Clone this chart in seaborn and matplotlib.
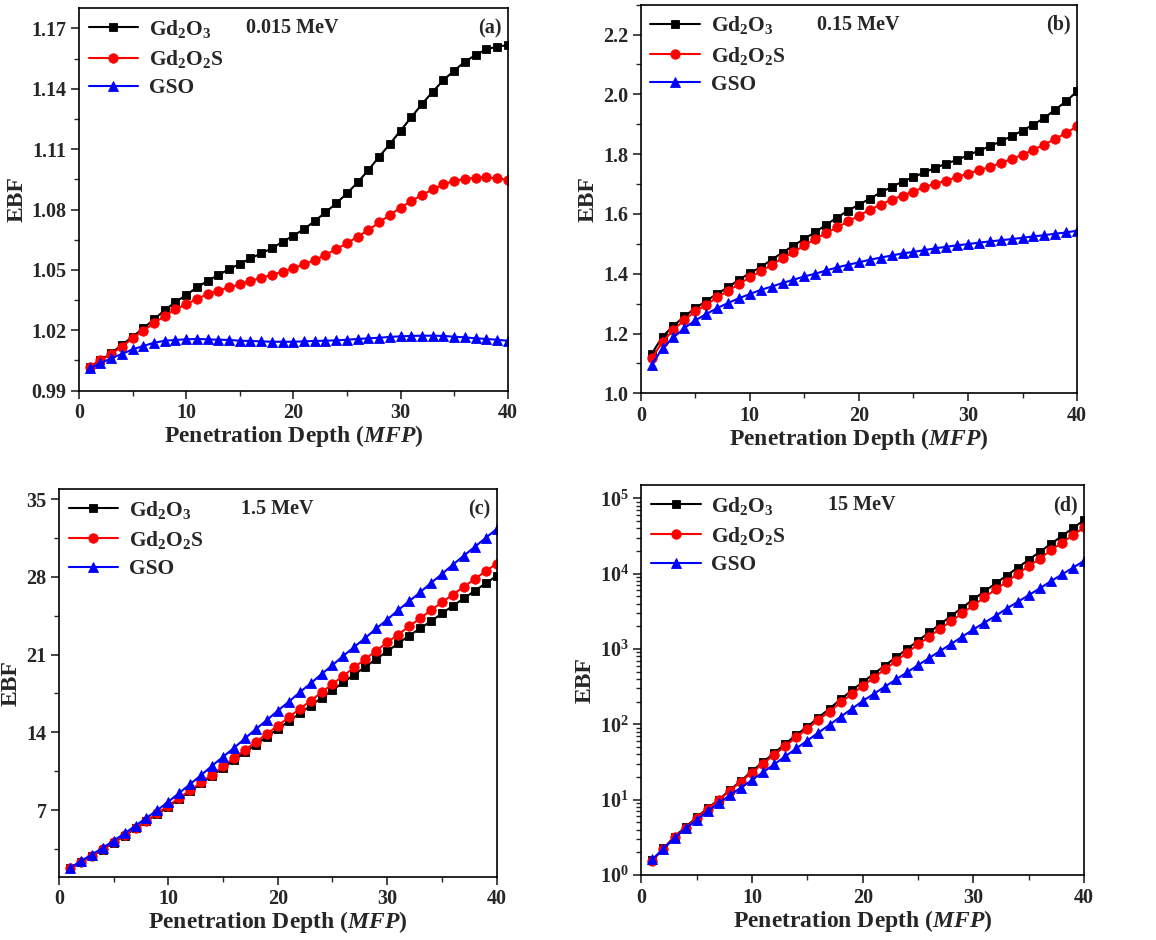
import numpy as np
import pandas as pd
import seaborn as sns
import matplotlib
matplotlib.use("Agg")
import matplotlib.pyplot as plt
from matplotlib.ticker import MultipleLocator, LogLocator, NullFormatter, FormatStrFormatter

# ---------------- data ----------------
depth = list(range(1, 41))
materials = ["Gd$_2$O$_3$", "Gd$_2$O$_2$S", "GSO"]

a_gd2o3 = [1.002, 1.005, 1.0086, 1.0127, 1.0168, 1.021, 1.0254, 1.030, 1.034, 1.0375,
           1.0413, 1.0445, 1.0475, 1.0503, 1.053, 1.0557, 1.0582, 1.0607, 1.064, 1.067,
           1.0703, 1.0743, 1.0786, 1.0831, 1.088, 1.0935, 1.0996, 1.1062, 1.1125, 1.1192,
           1.1258, 1.1324, 1.1385, 1.1443, 1.149, 1.1534, 1.1568, 1.1596, 1.1609, 1.1617]
a_gd2o2s = [1.002, 1.005, 1.0082, 1.0119, 1.016, 1.0198, 1.0235, 1.0271, 1.0304, 1.033,
            1.0355, 1.038, 1.0397, 1.0413, 1.0428, 1.0445, 1.0461, 1.0475, 1.0491, 1.0508,
            1.0528, 1.0549, 1.0574, 1.0604, 1.0632, 1.0665, 1.0698, 1.0736, 1.0773, 1.0809,
            1.0842, 1.0872, 1.090, 1.0925, 1.0942, 1.0952, 1.0958, 1.096, 1.0955, 1.0947]
a_gso = [1.0011, 1.0036, 1.0061, 1.0082, 1.0105, 1.0122, 1.0138, 1.0148, 1.0152, 1.0155,
         1.0157, 1.0155, 1.0153, 1.0152, 1.0148, 1.0147, 1.0145, 1.0143, 1.0143, 1.0143,
         1.0145, 1.0147, 1.0148, 1.015, 1.0153, 1.0157, 1.016, 1.0163, 1.0167, 1.017,
         1.0172, 1.0173, 1.0173, 1.0172, 1.0168, 1.0165, 1.016, 1.0157, 1.0153, 1.0148]

b_gd2o3 = [1.132, 1.19, 1.226, 1.257, 1.285, 1.309, 1.333, 1.355, 1.38, 1.402,
           1.422, 1.447, 1.471, 1.494, 1.517, 1.539, 1.564, 1.588, 1.611, 1.631,
           1.651, 1.672, 1.69, 1.708, 1.723, 1.739, 1.754, 1.768, 1.781, 1.796,
           1.812, 1.826, 1.843, 1.86, 1.879, 1.899, 1.921, 1.949, 1.977, 2.01]
b_gd2o2s = [1.117, 1.173, 1.212, 1.246, 1.274, 1.296, 1.321, 1.343, 1.365, 1.388,
            1.408, 1.43, 1.452, 1.472, 1.495, 1.516, 1.536, 1.555, 1.575, 1.594,
            1.614, 1.631, 1.648, 1.661, 1.675, 1.69, 1.701, 1.711, 1.723, 1.735,
            1.746, 1.757, 1.77, 1.784, 1.798, 1.815, 1.832, 1.851, 1.871, 1.893]
b_gso = [1.095, 1.151, 1.187, 1.218, 1.244, 1.265, 1.285, 1.302, 1.318, 1.332,
         1.346, 1.357, 1.369, 1.38, 1.391, 1.4, 1.411, 1.421, 1.43, 1.438,
         1.447, 1.454, 1.461, 1.468, 1.473, 1.479, 1.485, 1.49, 1.495, 1.499,
         1.504, 1.508, 1.512, 1.516, 1.52, 1.525, 1.529, 1.534, 1.538, 1.544]

c_gd2o3 = [1.75, 2.3, 2.85, 3.45, 4.05, 4.7, 5.35, 6.0, 6.65, 7.3,
           8.0, 8.7, 9.4, 10.1, 10.8, 11.5, 12.2, 12.9, 13.6, 14.3,
           15.0, 15.7, 16.4, 17.1, 17.8, 18.5, 19.2, 19.9, 20.6, 21.3,
           22.0, 22.7, 23.35, 24.0, 24.7, 25.4, 26.05, 26.75, 27.4, 28.1]
c_gd2o2s = [1.75, 2.3, 2.9, 3.5, 4.1, 4.75, 5.4, 6.05, 6.72, 7.4,
            8.1, 8.8, 9.5, 10.2, 10.95, 11.7, 12.4, 13.15, 13.85, 14.6,
            15.35, 16.1, 16.85, 17.6, 18.35, 19.1, 19.85, 20.6, 21.35, 22.1,
            22.8, 23.55, 24.25, 25.0, 25.7, 26.4, 27.1, 27.8, 28.5, 29.2]
c_gso = [1.8, 2.4, 3.0, 3.6, 4.25, 4.9, 5.6, 6.3, 7.0, 7.75,
         8.55, 9.35, 10.15, 11.0, 11.8, 12.6, 13.45, 14.3, 15.1, 15.95,
         16.75, 17.6, 18.4, 19.25, 20.05, 20.9, 21.7, 22.5, 23.35, 24.15,
         25.0, 25.8, 26.6, 27.45, 28.25, 29.1, 29.9, 30.7, 31.5, 32.3]

d_gd2o3 = [1.58, 2.26, 3.24, 4.37, 5.82, 7.76, 10.0, 13.5, 17.8, 24.0,
           31.6, 41.7, 55.0, 72.4, 93.3, 123, 162, 214, 282, 363,
           468, 603, 776, 1000, 1290, 1660, 2140, 2750, 3550, 4570,
           5820, 7410, 9440, 12000, 15300, 19500, 24800, 31600, 40300, 51300]
d_gd2o2s = [1.55, 2.24, 3.16, 4.27, 5.69, 7.59, 9.89, 13.2, 17.4, 22.9,
            30.2, 39.4, 51.3, 67.6, 87.1, 115, 148, 195, 251, 324,
            417, 537, 692, 891, 1150, 1450, 1860, 2340, 2990, 3800,
            4840, 6170, 7760, 10000, 12600, 15800, 20400, 25700, 32400, 41200]
d_gso = [1.62, 2.24, 3.09, 4.17, 5.37, 7.08, 9.02, 11.5, 14.5, 18.2,
         23.2, 29.5, 37.6, 47.9, 61.0, 77.6, 98.9, 126, 160, 204,
         254, 316, 394, 490, 610, 759, 944, 1170, 1460, 1820,
         2240, 2750, 3430, 4220, 5190, 6380, 7940, 9770, 12000, 14800]

energies = ["0.015 MeV", "0.15 MeV", "1.5 MeV", "15 MeV"]
panel_tags = ["(a)", "(b)", "(c)", "(d)"]

# ---------------- style ----------------
sns.set_theme(style="ticks")
plt.rcParams["font.family"] = ["Liberation Serif", "DejaVu Serif"]
plt.rcParams["font.weight"] = "bold"
plt.rcParams["axes.labelweight"] = "bold"
plt.rcParams["mathtext.fontset"] = "custom"
plt.rcParams["mathtext.rm"] = "Liberation Serif:bold"
plt.rcParams["mathtext.bf"] = "Liberation Serif:bold"
plt.rcParams["mathtext.it"] = "Liberation Serif:italic:bold"
plt.rcParams["mathtext.default"] = "rm"

colors = ["black", "red", "blue"]
markers = ["s", "o", "^"]
msizes = [6, 6.8, 7.5]

fig = plt.figure(figsize=(11.56, 9.4), dpi=100)
positions = [
    [0.0683, 0.5844, 0.3709, 0.4068],
    [0.5543, 0.5816, 0.3774, 0.4134],
    [0.0510, 0.0673, 0.3786, 0.4124],
    [0.5548, 0.0691, 0.3830, 0.4149],
]
panels = [
    (a_gd2o3, a_gd2o2s, a_gso),
    (b_gd2o3, b_gd2o2s, b_gso),
    (c_gd2o3, c_gd2o2s, c_gso),
    (d_gd2o3, d_gd2o2s, d_gso),
]
ylims = [(0.99, 1.18), (1.0, 2.3), (1.0, 35.9), (1.0, 1.5e5)]
ymajor = [0.03, 0.2, 7, None]
yminor = [0.015, 0.1, 3.5, None]
yfmt = ["%.2f", "%.1f", "%d", None]

for i, (pos, series) in enumerate(zip(positions, panels)):
    ax = fig.add_axes(pos)
    for j, vals in enumerate(series):
        df = pd.DataFrame({"depth": depth, "EBF": vals})
        sns.lineplot(data=df, x="depth", y="EBF", ax=ax, color=colors[j],
                     marker=markers[j], markersize=msizes[j], markeredgecolor=colors[j],
                     markeredgewidth=0.6, linewidth=1.5, label=materials[j])
    ax.set_xlim(0, 40)
    if i == 3:
        ax.set_yscale("log")
        ax.yaxis.set_major_locator(LogLocator(base=10, numticks=10))
        ax.yaxis.set_minor_locator(LogLocator(base=10, subs=np.arange(2, 10), numticks=20))
        ax.yaxis.set_minor_formatter(NullFormatter())
    else:
        ax.yaxis.set_major_locator(MultipleLocator(ymajor[i]))
        ax.yaxis.set_minor_locator(MultipleLocator(yminor[i]))
        ax.yaxis.set_major_formatter(FormatStrFormatter(yfmt[i]))
    ax.set_ylim(*ylims[i])
    ax.xaxis.set_major_locator(MultipleLocator(10))
    ax.xaxis.set_minor_locator(MultipleLocator(5))
    ax.tick_params(axis="both", which="major", direction="out", length=6, width=1.2,
                   labelsize=14.5, top=False, right=False, pad=3)
    ax.tick_params(axis="both", which="minor", direction="out", length=3.5, width=1.0,
                   top=False, right=False)
    for lab in ax.get_xticklabels() + ax.get_yticklabels():
        lab.set_fontweight("bold")
    for sp in ax.spines.values():
        sp.set_linewidth(1.2)
        sp.set_color("black")
    ax.set_xlabel(r"Penetration Depth ($\mathit{MFP}$)", fontsize=17, fontweight="bold", labelpad=0)
    ax.set_ylabel("EBF", fontsize=17, fontweight="bold", labelpad=3)
    ax.text(0.498, 0.948, energies[i], transform=ax.transAxes, ha="center", va="center",
            fontsize=14.5, fontweight="bold")
    ax.text(0.985, 0.948, panel_tags[i], transform=ax.transAxes, ha="right", va="center",
            fontsize=14.5, fontweight="bold")
    leg = ax.legend(loc="upper left", frameon=False, fontsize=15.5, numpoints=1,
                    handlelength=2.3, handletextpad=0.5, labelspacing=0.38,
                    borderaxespad=0.25, borderpad=0.2)
    for t in leg.get_texts():
        t.set_fontweight("bold")

fig.savefig("out.png", dpi=100)
